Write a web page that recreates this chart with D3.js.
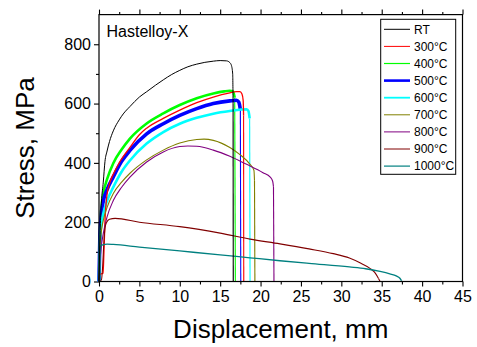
<!DOCTYPE html>
<html>
<head>
<meta charset="utf-8">
<script src="https://cdn.jsdelivr.net/npm/d3@7"></script>
<style>
  body { margin: 0; background: #fff; }
  svg { display: block; font-family: Arial, "Liberation Sans", sans-serif; }
</style>
</head>
<body>
<svg id="chart" width="477" height="347"></svg>
<script>
// stress-displacement curves, [displacement mm, stress MPa]
const rtCurve = [[0,0],[0.1,120],[0.2,215],[0.3,268],[0.53,335],[0.74,405],[1.0,440],[1.3,472],[1.77,508],[2.5,545],[3.0,565],[3.83,590],[5.0,622],[5.9,640],[7.0,662],[7.96,680],[9.0,698],[10.0,712],[11.0,724],[12.1,733],[13.1,739],[14.15,743],[15.0,745],[15.8,744],[16.2,738],[16.4,728],[16.55,700],[16.6,600],[16.62,0]];
const c300 = [[0,0],[0.08,22],[0.3,26],[0.5,28],[0.6,90],[0.75,210],[1.0,295],[1.3,330],[1.77,362],[2.5,400],[3.83,452],[5.0,495],[5.9,517],[7.96,550],[10.0,578],[12.1,603],[14.15,622],[16.2,636],[17.0,640],[17.45,640],[17.7,632],[17.85,610],[17.9,560],[17.92,0]];
const c400 = [[0,0],[0.1,150],[0.25,235],[0.54,297],[1.0,345],[1.77,399],[2.8,445],[3.83,482],[5.9,533],[7.96,567],[10.0,595],[12.1,618],[14.15,634],[15.5,641],[16.2,643],[16.6,641],[16.8,620],[16.88,0]];
const c500 = [[0,0],[0.1,140],[0.25,215],[0.54,272],[1.0,310],[1.77,353],[2.8,405],[3.83,442],[5.9,498],[7.96,532],[10.0,560],[12.1,583],[14.15,600],[16.2,609],[17.0,611],[17.3,605],[17.5,580],[17.55,0]];
const c600 = [[0,0],[0.1,125],[0.25,185],[0.54,230],[1.0,272],[1.77,318],[2.8,370],[3.83,408],[5.9,465],[7.96,504],[10.0,532],[12.1,552],[14.15,566],[16.2,575],[18.28,581],[18.5,575],[18.65,550],[18.7,0]];
const c700 = [[0,0],[0.1,105],[0.25,160],[0.54,207],[1.0,250],[1.77,297],[2.8,335],[3.83,365],[5.9,410],[7.96,443],[10.0,467],[12.1,479],[13.0,480],[14.15,476],[16.2,452],[17.45,428],[18.7,395],[19.18,375],[19.25,340],[19.3,0]];
const c800 = [[0,0],[0.1,60],[0.25,110],[0.54,163],[1.0,218],[1.77,273],[2.8,318],[3.83,352],[5.9,403],[7.96,437],[10.0,455],[11.0,457],[12.1,456],[14.15,443],[16.2,422],[18.28,395],[20.3,367],[21.2,352],[21.5,338],[21.6,320],[21.66,0]];
const c900 = [[0,0],[0.3,5],[0.45,50],[0.6,130],[0.74,180],[0.95,200],[1.3,210],[2.0,213],[5,200],[10,185],[15,163],[18.7,143],[22.4,127],[26,110],[29,94],[31,79],[32.3,63],[33.5,45],[34.2,28],[34.6,10],[34.8,0]];
const c1000 = [[0,0],[0.1,5],[0.15,100],[0.2,120],[0.5,124],[1.0,126],[1.77,125],[5,116],[10,103],[15,90],[18.7,80],[22.4,70],[26,61],[31,49],[33,43],[34.8,34],[36,26],[36.8,19],[37.25,11],[37.45,3],[37.5,0]];

const labels = ['RT', '300°C', '400°C', '500°C', '600°C', '700°C', '800°C', '900°C', '1000°C'];
const curves = [rtCurve, c300, c400, c500, c600, c700, c800, c900, c1000];
const xTicks = [0, 5, 10, 15, 20, 25, 30, 35, 40, 45];
const yTicks = [0, 200, 400, 600, 800];

const colors = ['#000000', '#ff0000', '#00ff00', '#0000ff', '#00ffff', '#808000', '#800080', '#800000', '#008080'];
const widths = [1, 1.3, 2.6, 3.6, 2.6, 1.1, 1.1, 1.1, 1.3];
const legendWidths = [1, 1, 1.2, 2.6, 1.8, 1, 1, 1, 1.2];
const drawOrder = [2, 3, 4, 1, 5, 6, 7, 8, 0];

const svg = d3.select('#chart');
const pLeft = 99, pRight = 462.5, pTop = 14.6, pBottom = 281.5;

const x = d3.scaleLinear().domain([0, 45]).range([pLeft, pRight]);
const y = d3.scaleLinear().domain([0, 900]).range([pBottom, pTop]);

// minor ticks
const xMinor = d3.range(0, 45.1, 2.5).filter(d => d % 5 != 0);
const yMinor = d3.range(100, 900, 200);

svg.append('g').attr('transform', 'translate(0,' + pBottom + ')')
  .call(d3.axisBottom(x).tickValues(xTicks).tickSize(5).tickPadding(4).tickFormat(d3.format('d')));
svg.append('g').attr('transform', 'translate(0,' + pBottom + ')')
  .call(d3.axisBottom(x).tickValues(xMinor).tickSize(3).tickFormat(''));
svg.append('g').attr('transform', 'translate(' + pLeft + ',0)')
  .call(d3.axisLeft(y).tickValues(yTicks).tickSize(5).tickPadding(3).tickFormat(d3.format('d')));
svg.append('g').attr('transform', 'translate(' + pLeft + ',0)')
  .call(d3.axisLeft(y).tickValues(yMinor).tickSize(3).tickFormat(''));
svg.append('g').attr('transform', 'translate(0,' + pTop + ')')
  .call(d3.axisTop(x).tickValues(xTicks).tickSize(5).tickFormat(''));
svg.append('g').attr('transform', 'translate(0,' + pTop + ')')
  .call(d3.axisTop(x).tickValues(xMinor).tickSize(2.5).tickFormat(''));

svg.selectAll('.domain').remove();
svg.selectAll('.tick line').attr('stroke', '#000').attr('stroke-width', 1.1);
svg.selectAll('.tick text').attr('font-size', 16).attr('fill', '#000')
  .attr('font-family', 'Arial, "Liberation Sans", sans-serif');

const line = d3.line().x(d => x(d[0])).y(d => y(d[1])).curve(d3.curveMonotoneX);
const straight = d3.line().x(d => x(d[0])).y(d => y(d[1]));

const plot = svg.append('g');
drawOrder.forEach(i => {
  const c = curves[i];
  // body of the curve with its band width, the fracture drop as a thin line
  plot.append('path').attr('d', line(c.slice(0, -1)))
    .attr('fill', 'none').attr('stroke', colors[i])
    .attr('stroke-width', widths[i]).attr('stroke-linejoin', 'round');
  plot.append('path').attr('d', straight(c.slice(-2)))
    .attr('fill', 'none').attr('stroke', colors[i])
    .attr('stroke-width', 1.1);
});

svg.append('rect')
  .attr('x', pLeft).attr('y', pTop).attr('width', pRight - pLeft).attr('height', pBottom - pTop)
  .attr('fill', 'none').attr('stroke', '#000').attr('stroke-width', 1.2);

svg.append('text').attr('x', 106.5).attr('y', 37).attr('font-size', 16).text('Hastelloy-X');

// legend
const lg = svg.append('g');
lg.append('rect').attr('x', 380.7).attr('y', 19.3).attr('width', 75).attr('height', 155)
  .attr('fill', '#fff').attr('stroke', '#000').attr('stroke-width', 1);
labels.forEach((t, i) => {
  const ly = 29.3 + i * 17.1;
  lg.append('line').attr('x1', 384).attr('x2', 410).attr('y1', ly).attr('y2', ly)
    .attr('stroke', colors[i]).attr('stroke-width', legendWidths[i]);
  lg.append('text').attr('x', 414).attr('y', ly).attr('dy', '0.36em')
    .attr('font-size', 12).text(t);
});

svg.append('text').attr('x', (pLeft + pRight) / 2).attr('y', 338)
  .attr('text-anchor', 'middle').attr('font-size', 26).text('Displacement, mm');
svg.append('text').attr('transform', 'translate(33.5,' + ((pTop + pBottom) / 2) + ') rotate(-90)')
  .attr('text-anchor', 'middle').attr('font-size', 26).text('Stress, MPa');
</script>
</body>
</html>
